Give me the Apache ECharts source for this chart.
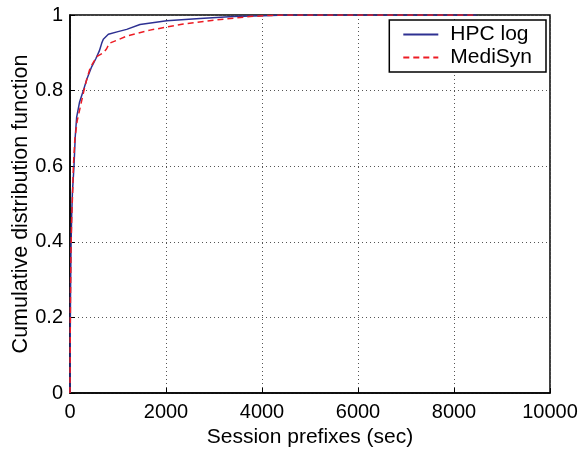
<!DOCTYPE html>
<html><head><meta charset="utf-8">
<script src="https://cdn.jsdelivr.net/npm/echarts@6/dist/echarts.min.js"></script>
<style>html,body{margin:0;padding:0;background:#fff}#c{width:581px;height:449px}</style>
</head><body><div id="c"></div>
<script>
const seriesNames = ["HPC log", "MediSyn"];
const hpcLog = [[0,0],[2,0.05],[5,0.15],[10,0.25],[20,0.38],[35,0.47],[50,0.53],[83,0.6],[110,0.68],[139,0.73],[200,0.77],[278,0.8],[350,0.83],[451,0.863],[540,0.885],[611,0.905],[630,0.91],[660,0.925],[694,0.936],[799,0.949],[1000,0.956],[1181,0.962],[1458,0.975],[2014,0.985],[2708,0.991],[3403,0.996],[4028,0.998],[4500,1.0],[8470,1.0]];
const mediSyn = [[0,0],[2,0.05],[5,0.15],[10,0.25],[20,0.37],[35,0.46],[55,0.53],[70,0.6],[100,0.67],[150,0.72],[220,0.76],[290,0.8],[350,0.83],[420,0.86],[556,0.89],[694,0.9],[760,0.91],[820,0.925],[1181,0.944],[1667,0.96],[2361,0.976],[3056,0.987],[3750,0.996],[4200,0.999],[4500,1.0],[8400,1.0]];
const xTicks = [0,2000,4000,6000,8000,10000];
const yTicks = [0,0.2,0.4,0.6,0.8,1];

const font = "'Liberation Sans', Arial, Helvetica, sans-serif";
const chart = echarts.init(document.getElementById('c'));
chart.setOption({
  animation:false,
  backgroundColor:'#fff',
  grid:{left:70,right:31,top:15,bottom:56,show:true,borderColor:'#000',borderWidth:1.5,containLabel:false,outerBoundsMode:'none'},
  legend:{
    right:35, top:20, orient:'vertical', itemWidth:35, itemHeight:12, itemGap:2,
    backgroundColor:'#fff', borderColor:'#000', borderWidth:1.5, padding:[4,14,4,13],
    textStyle:{fontFamily:font,fontSize:21,color:'#000',padding:[0,0,0,7]},
    itemStyle:{opacity:0,borderWidth:0},
    data:seriesNames
  },
  xAxis:{
    type:'value', min:xTicks[0], max:xTicks[xTicks.length-1], interval:xTicks[1]-xTicks[0],
    name:'Session prefixes (sec)', nameLocation:'middle', nameGap:34, nameMoveOverlap:false,
    nameTextStyle:{fontFamily:font,fontSize:21,color:'#000'},
    axisLine:{lineStyle:{color:'#000',width:1.5}},
    axisTick:{inside:true,length:5,lineStyle:{color:'#000'}},
    axisLabel:{fontFamily:font,fontSize:20,color:'#000',margin:9,formatter:v=>String(v)},
    splitLine:{show:true,lineStyle:{color:'#555',type:[1,3],width:1}}
  },
  yAxis:{
    type:'value', min:yTicks[0], max:yTicks[yTicks.length-1], interval:yTicks[1]-yTicks[0],
    name:'Cumulative distribution function', nameLocation:'middle', nameGap:38, nameMoveOverlap:false,
    nameTextStyle:{fontFamily:font,fontSize:21.5,color:'#000'},
    axisLine:{show:true,lineStyle:{color:'#000',width:1.5}},
    axisTick:{show:true,inside:true,length:5,lineStyle:{color:'#000'}},
    axisLabel:{fontFamily:font,fontSize:20,color:'#000',margin:7,formatter:v=>String(+v.toFixed(1))},
    splitLine:{show:true,lineStyle:{color:'#555',type:[1,3],width:1}}
  },
  series:[
    {name:seriesNames[0],type:'line',data:hpcLog,showSymbol:false,symbol:'none',
     lineStyle:{color:'#2e3192',width:1.5},itemStyle:{color:'#2e3192'},z:3},
    {name:seriesNames[1],type:'line',data:mediSyn,showSymbol:false,symbol:'none',
     lineStyle:{color:'#ed1c24',width:1.5,type:[6,4]},itemStyle:{color:'#ed1c24'},z:4}
  ]
});
</script></body></html>
